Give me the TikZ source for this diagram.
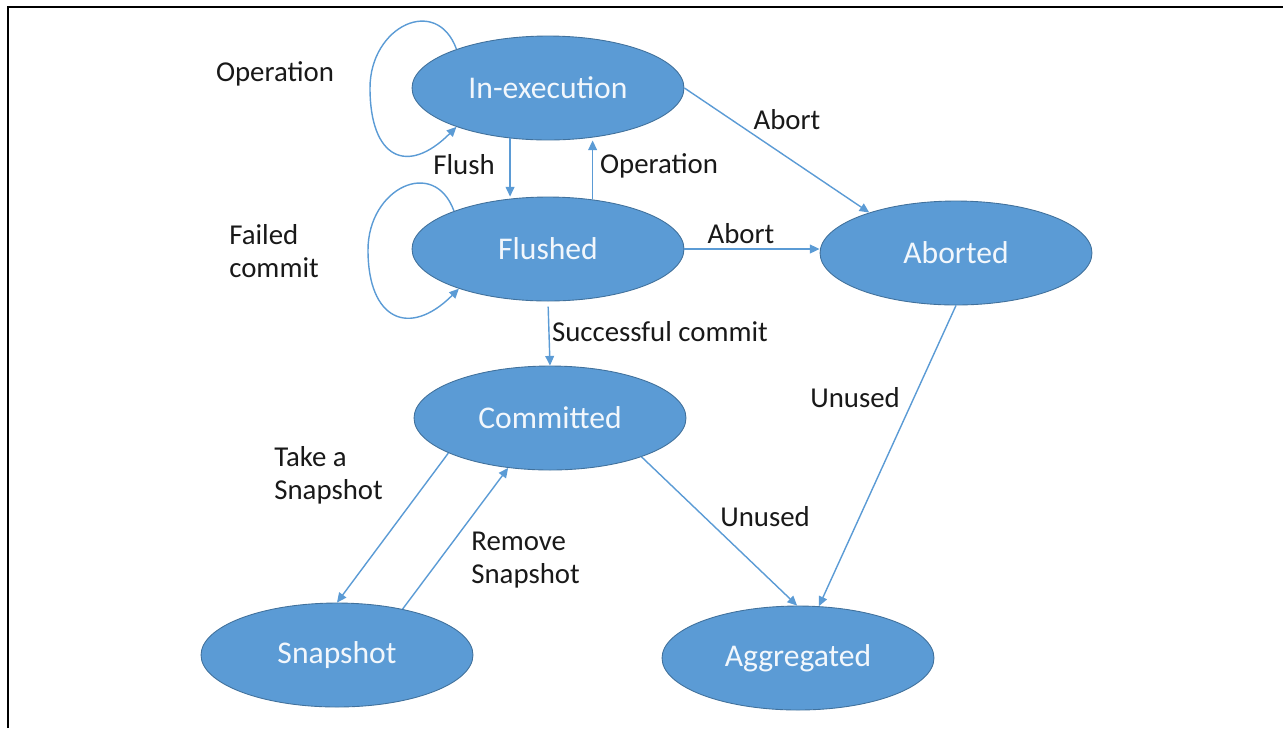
\documentclass[tikz,border=0pt]{standalone}
\usepackage{fontspec}
\setmainfont{Carlito}
\usepackage{xcolor}
\usepackage{tikz}
\usetikzlibrary{shapes}
\usetikzlibrary{arrows.meta}

\definecolor{fyld}{HTML}{5B9BD5}
\definecolor{rand}{HTML}{41719C}

\begin{document}
\begin{tikzpicture}[
    x=0.02cm, y=0.02cm,
    tilstand/.style={ellipse, draw=rand, line width=0.5pt, fill=fyld,
        minimum width=5.44cm, minimum height=2.08cm, inner sep=0pt,
        text=white!92!fyld, font=\fontsize{18}{21}\selectfont},
    pil/.style={draw=fyld, line width=0.8pt, -{Triangle[length=5.5pt,width=5pt]}},
    tekst/.style={text=black!90, font=\fontsize{16.4}{19}\selectfont,
        inner sep=0pt, align=left}
]
\useasboundingbox (0,0) rectangle (1283,-728);
\draw[line width=1.3pt] (8,-728) -- (8,-7) -- (1283,-7);

% states
\node[tilstand] (exec) at (548,-88) {In-execution};
\node[tilstand] (flushed) at (548,-249) {Flushed};
\node[tilstand] (aborted) at (956,-253) {Aborted};
\node[tilstand] (committed) at (550,-418) {Committed};
\node[tilstand] (snapshot) at (337,-655) {Snapshot};
\node[tilstand] (aggregated) at (798,-658) {Aggregated};

% loop points
\coordinate (oploop) at (370,-88);
\coordinate (failloop) at (368,-250);

% transitions
\draw[pil] (exec.157) .. controls +(110:58) and +(90:62) .. (oploop)
    .. controls +(-90:70) and +(225:70) .. (exec.203);
\draw[pil] (flushed.158) .. controls +(110:58) and +(90:62) .. (failloop)
    .. controls +(-90:70) and +(225:70) .. (flushed.204);
\draw[pil] (exec.233) -- (exec.233 |- flushed.north);
\draw[pil] (flushed.48) -- (flushed.48 |- exec.south);
\draw[pil] (exec.east) -- (aborted.155);
\draw[pil] (flushed.east) -- (flushed.east -| aborted.west);
\draw[pil, shorten <=3pt] (flushed.south) -- (committed.north);
\draw[pil] (committed.199) -- (snapshot.north);
\draw[pil] (snapshot.35) -- (committed.230);
\draw[pil] (committed.-23) -- (aggregated.91);
\draw[pil] (aborted.south) -- (aggregated.68);

% labels
\node[tekst] (lop1) at (275,-74) {Operation};
\node[tekst, anchor=west] (lfail) at (229,-251) {Failed\\commit};
\node[tekst] (lflush) at (464,-165) {Flush};
\node[tekst] (lop2) at (659,-166) {Operation};
\node[tekst] (labort1) at (787,-120) {Abort};
\node[tekst] (labort2) at (741,-234) {Abort};
\node[tekst] (lsucc) at (660,-332) {Successful commit};
\node[tekst] (lunused1) at (855,-398) {Unused};
\node[tekst, anchor=west] (ltake) at (274,-475) {Take a\\Snapshot};
\node[tekst, anchor=west] (lremove) at (471,-560) {Remove\\Snapshot};
\node[tekst] (lunused2) at (765,-517) {Unused};
\end{tikzpicture}
\end{document}
